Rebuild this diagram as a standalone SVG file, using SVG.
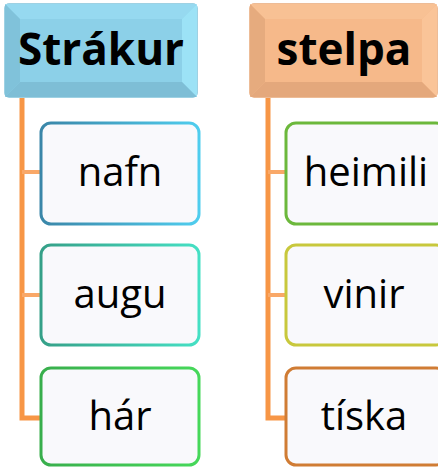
<svg xmlns="http://www.w3.org/2000/svg" width="438" height="467" viewBox="0 0 438 467">
<style>
.hd{font-family:"Open Sans","Liberation Sans",sans-serif;font-weight:bold;font-size:44px;fill:#000;text-anchor:middle}
.ch{font-family:"Open Sans","Liberation Sans",sans-serif;font-size:40px;fill:#000;text-anchor:middle}
.card{fill:#f9f9fc;stroke-width:3}
.vline{stroke:#f79646;stroke-width:5;fill:none}
.hline{stroke:#f9a868;stroke-width:4;fill:none}
</style>
<defs>
<linearGradient id="gBlue" x1="0" y1="0" x2="1" y2="0"><stop offset="0" stop-color="#3a86a8"/><stop offset="1" stop-color="#4fcdee"/></linearGradient>
<linearGradient id="gTeal" x1="0" y1="0" x2="1" y2="0"><stop offset="0" stop-color="#35a088"/><stop offset="1" stop-color="#45e0c4"/></linearGradient>
<linearGradient id="gGreen" x1="0" y1="0" x2="1" y2="0"><stop offset="0" stop-color="#38ae4c"/><stop offset="1" stop-color="#46d85a"/></linearGradient>
</defs>
<g id="connectors">
<path class="vline" d="M22,98 V418 H40"/>
<path class="hline" d="M22,172 H40 M22,295 H40"/>
<path class="vline" d="M268,98 V418 H285"/>
<path class="hline" d="M268,172 H285 M268,295 H285"/>
</g>
<g id="strakur">
<rect x="5" y="4" width="192" height="93" rx="4" fill="#8cd2ea" stroke="#7fc2da" stroke-width="1.5"/>
<polygon points="5,4 197,4 182,19 20,19" fill="#96d9f0"/>
<polygon points="5,4 20,19 20,82 5,97" fill="#80c2da"/>
<polygon points="197,4 197,97 182,82 182,19" fill="#9ce2f6"/>
<polygon points="5,97 20,82 182,82 197,97" fill="#7ebed6"/>
<rect x="20" y="19" width="162" height="63" fill="#8cd0e8"/>
<text class="hd" x="101" y="65">Strákur</text>
</g>
<g id="stelpa">
<rect x="250" y="4" width="187" height="93" rx="4" fill="#f6b98a" stroke="#e8a676" stroke-width="1.5"/>
<polygon points="250,4 437,4 422,19 265,19" fill="#f8c194"/>
<polygon points="250,4 265,19 265,82 250,97" fill="#e6ab7e"/>
<polygon points="437,4 437,97 422,82 422,19" fill="#fac498"/>
<polygon points="250,97 265,82 422,82 437,97" fill="#e4a87c"/>
<rect x="265" y="19" width="157" height="63" fill="#f6b98a"/>
<text class="hd" x="344" y="65">stelpa</text>
</g>
<g id="nafn">
<rect class="card" x="41" y="123" width="158" height="101" rx="10" stroke="url(#gBlue)"/>
<text class="ch" x="120" y="186">nafn</text>
</g>
<g id="augu">
<rect class="card" x="41" y="245" width="158" height="100" rx="10" stroke="url(#gTeal)"/>
<text class="ch" x="120" y="308">augu</text>
</g>
<g id="har">
<rect class="card" x="41" y="368" width="158" height="97" rx="10" stroke="url(#gGreen)"/>
<text class="ch" x="120" y="430">hár</text>
</g>
<g id="heimili">
<rect class="card" x="286" y="123" width="160" height="101" rx="10" stroke="#6cb83c"/>
<text class="ch" x="366" y="186">heimili</text>
</g>
<g id="vinir">
<rect class="card" x="286" y="245" width="160" height="100" rx="10" stroke="#c8c83c"/>
<text class="ch" x="364" y="308">vinir</text>
</g>
<g id="tiska">
<rect class="card" x="286" y="368" width="160" height="97" rx="10" stroke="#d07c34"/>
<text class="ch" x="364" y="430">tíska</text>
</g>
</svg>
